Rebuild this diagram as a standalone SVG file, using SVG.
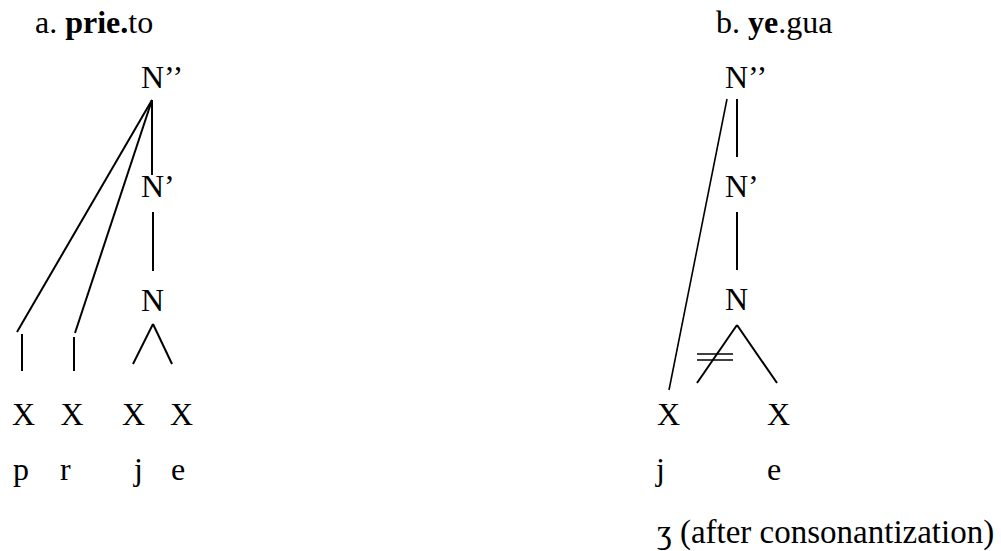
<svg xmlns="http://www.w3.org/2000/svg" width="1001" height="551" viewBox="0 0 1001 551">
<style>
text{font-family:"Liberation Serif","Times New Roman",serif;font-size:32px;fill:#000}
.c{text-anchor:middle}
.b{font-weight:bold}
.n{font-size:33px}
line{stroke:#000;stroke-width:2;stroke-linecap:butt}
.t{stroke-width:1.6}
</style>
<rect width="1001" height="551" fill="#fff"/>
<g id="title-a"><text x="35" y="33">a. <tspan class="b">prie.</tspan>to</text></g>
<g id="title-b"><text x="716" y="33">b. <tspan class="b">ye</tspan>.gua</text></g>

<g id="a-N2"><text x="141" y="88">N’’</text></g>
<g id="a-N1"><text x="141" y="197">N’</text></g>
<g id="a-N"><text x="141" y="311">N</text></g>
<g id="a-X1"><text class="c" x="23.5" y="425">X</text></g>
<g id="a-X2"><text class="c" x="72" y="425">X</text></g>
<g id="a-X3"><text class="c" x="133.5" y="425">X</text></g>
<g id="a-X4"><text class="c" x="181.5" y="425">X</text></g>
<g id="a-p"><text x="13" y="480">p</text></g>
<g id="a-r"><text x="60" y="480">r</text></g>
<g id="a-j"><text x="134" y="480">j</text></g>
<g id="a-e"><text x="171" y="480">e</text></g>

<g id="b-N2"><text x="725" y="88">N’’</text></g>
<g id="b-N1"><text x="725" y="197">N’</text></g>
<g id="b-N"><text x="725" y="310">N</text></g>
<g id="b-X1"><text class="c" x="668.5" y="425">X</text></g>
<g id="b-X2"><text class="c" x="778.5" y="425">X</text></g>
<g id="b-j"><text x="656" y="480">j</text></g>
<g id="b-e"><text x="767" y="480">e</text></g>
<g id="b-note"><text class="n" x="657" y="543">ʒ (after consonantization)</text></g>

<g id="connectors">
<line x1="152" y1="100" x2="152" y2="175"/>
<line x1="152" y1="100" x2="17" y2="332"/>
<line x1="152" y1="100" x2="75" y2="333"/>
<line x1="153" y1="212" x2="153" y2="271"/>
<line x1="133" y1="364" x2="153" y2="324"/>
<line x1="153" y1="324" x2="172" y2="364"/>
<line x1="22" y1="334" x2="22" y2="371"/>
<line x1="74" y1="337" x2="74" y2="371"/>

<line x1="737" y1="99" x2="737" y2="157"/>
<line class="t" x1="727" y1="99" x2="669" y2="390"/>
<line x1="737" y1="212" x2="737" y2="270"/>
<line x1="697" y1="383" x2="737" y2="325"/>
<line x1="737" y1="325" x2="777" y2="383"/>
<line class="t" x1="697" y1="354" x2="733" y2="354"/>
<line class="t" x1="697" y1="360" x2="733" y2="360"/>
</g>
</svg>
